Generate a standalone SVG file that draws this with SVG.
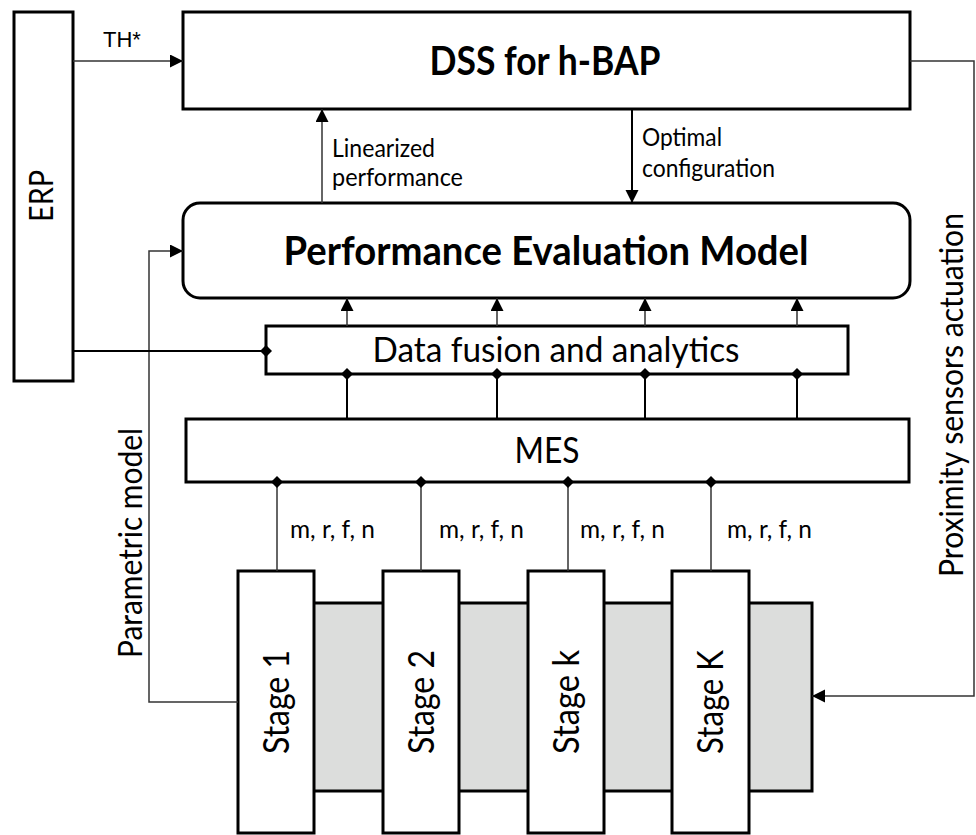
<svg xmlns="http://www.w3.org/2000/svg" width="976" height="835" viewBox="0 0 976 835">
<style>
.box{fill:#fff;stroke:#000;stroke-width:3}
.band{fill:#dcdddc;stroke:#000;stroke-width:3}
.t{font-family:Lato,"Open Sans",sans-serif;fill:#000}
.b{font-weight:bold}
.ar{font-family:"Liberation Sans",Arial,sans-serif;fill:#000}
.c{fill:none;stroke:#333;stroke-width:1.5}
.k{fill:none;stroke:#000;stroke-width:2}
</style>
<defs>
<marker id="arr" markerUnits="userSpaceOnUse" markerWidth="14" markerHeight="14" refX="13" refY="6.5" orient="auto">
<path d="M0,0 L13,6.5 L0,13 z" fill="#000"/>
</marker>
<marker id="dia" markerUnits="userSpaceOnUse" markerWidth="12" markerHeight="12" refX="6" refY="6" orient="auto">
<path d="M0,6 L6,0 L12,6 L6,12 z" fill="#000"/>
</marker>
</defs>

<g id="band"><rect class="band" x="280" y="603" width="532" height="188"/></g>

<g id="erp">
<rect class="box" x="14" y="12" width="59" height="369"/>
<text class="t" transform="translate(53,196) rotate(-90)" font-size="33" text-anchor="middle" textLength="52" lengthAdjust="spacingAndGlyphs">ERP</text>
</g>

<g id="dss">
<rect class="box" x="183" y="12" width="727" height="97"/>
<text class="t b" x="545" y="75" font-size="40" text-anchor="middle" textLength="231" lengthAdjust="spacingAndGlyphs">DSS for h-BAP</text>
</g>

<g id="pem">
<rect class="box" x="183" y="203" width="727" height="95" rx="17" ry="17"/>
<text class="t b" x="546" y="265" font-size="40" text-anchor="middle" textLength="525" lengthAdjust="spacingAndGlyphs">Performance Evaluation Model</text>
</g>

<g id="fusion">
<rect class="box" x="266" y="326" width="582" height="48"/>
<text class="t" x="556" y="362" font-size="35" text-anchor="middle" textLength="367" lengthAdjust="spacingAndGlyphs">Data fusion and analytics</text>
</g>

<g id="mes">
<rect class="box" x="186" y="419" width="723" height="63"/>
<text class="t" x="547" y="463" font-size="36" text-anchor="middle" textLength="65" lengthAdjust="spacingAndGlyphs">MES</text>
</g>

<g id="stage1">
<rect class="box" x="238" y="571" width="76" height="262"/>
<text class="t" transform="translate(289,702) rotate(-90)" font-size="36" text-anchor="middle" textLength="104" lengthAdjust="spacingAndGlyphs">Stage 1</text>
</g>
<g id="stage2">
<rect class="box" x="383" y="571" width="76" height="262"/>
<text class="t" transform="translate(434,702) rotate(-90)" font-size="36" text-anchor="middle" textLength="104" lengthAdjust="spacingAndGlyphs">Stage 2</text>
</g>
<g id="stagek">
<rect class="box" x="528" y="571" width="76" height="262"/>
<text class="t" transform="translate(579,702) rotate(-90)" font-size="36" text-anchor="middle" textLength="104" lengthAdjust="spacingAndGlyphs">Stage k</text>
</g>
<g id="stageK">
<rect class="box" x="672" y="571" width="77" height="262"/>
<text class="t" transform="translate(723,702) rotate(-90)" font-size="36" text-anchor="middle" textLength="104" lengthAdjust="spacingAndGlyphs">Stage K</text>
</g>

<g id="connectors">
<path class="c" d="M73,61 H183" marker-end="url(#arr)"/>
<path class="c" d="M322,203 V109" marker-end="url(#arr)"/>
<path class="k" d="M632,109 V203" stroke-width="1.5" marker-end="url(#arr)"/>
<path class="c" d="M910,61 H974 V696 H812" marker-end="url(#arr)"/>
<path class="c" d="M238,702 H149 V251 H183" marker-end="url(#arr)"/>
<path class="k" d="M73,351 H266" marker-end="url(#dia)"/>
<path class="c" d="M347,326 V298" marker-end="url(#arr)"/>
<path class="c" d="M497,326 V298" marker-end="url(#arr)"/>
<path class="c" d="M645,326 V298" marker-end="url(#arr)"/>
<path class="c" d="M797,326 V298" marker-end="url(#arr)"/>
<path class="k" d="M347,419 V374" marker-end="url(#dia)"/>
<path class="k" d="M497,419 V374" marker-end="url(#dia)"/>
<path class="k" d="M645,419 V374" marker-end="url(#dia)"/>
<path class="k" d="M797,419 V374" marker-end="url(#dia)"/>
<path class="c" d="M277,571 V482" marker-end="url(#dia)"/>
<path class="c" d="M421,571 V482" marker-end="url(#dia)"/>
<path class="c" d="M568,571 V482" marker-end="url(#dia)"/>
<path class="c" d="M711,571 V482" marker-end="url(#dia)"/>
</g>

<g id="labels">
<text class="ar" x="103" y="47" font-size="22">TH*</text>
<text class="t" x="332" y="157" font-size="25" textLength="103" lengthAdjust="spacingAndGlyphs">Linearized</text>
<text class="t" x="332" y="186" font-size="25" textLength="131" lengthAdjust="spacingAndGlyphs">performance</text>
<text class="t" x="642" y="146" font-size="25" textLength="80" lengthAdjust="spacingAndGlyphs">Optimal</text>
<text class="t" x="642" y="177" font-size="25" textLength="133" lengthAdjust="spacingAndGlyphs">configuration</text>
<text class="t" transform="translate(963,395) rotate(-90)" font-size="32" text-anchor="middle" textLength="364" lengthAdjust="spacingAndGlyphs">Proximity sensors actuation</text>
<text class="t" transform="translate(142,543) rotate(-90)" font-size="32" text-anchor="middle" textLength="230" lengthAdjust="spacingAndGlyphs">Parametric model</text>
<text class="t" x="290" y="538" font-size="25" textLength="85" lengthAdjust="spacingAndGlyphs">m, r, f, n</text>
<text class="t" x="439" y="538" font-size="25" textLength="85" lengthAdjust="spacingAndGlyphs">m, r, f, n</text>
<text class="t" x="580" y="538" font-size="25" textLength="85" lengthAdjust="spacingAndGlyphs">m, r, f, n</text>
<text class="t" x="727" y="538" font-size="25" textLength="85" lengthAdjust="spacingAndGlyphs">m, r, f, n</text>
</g>
</svg>
